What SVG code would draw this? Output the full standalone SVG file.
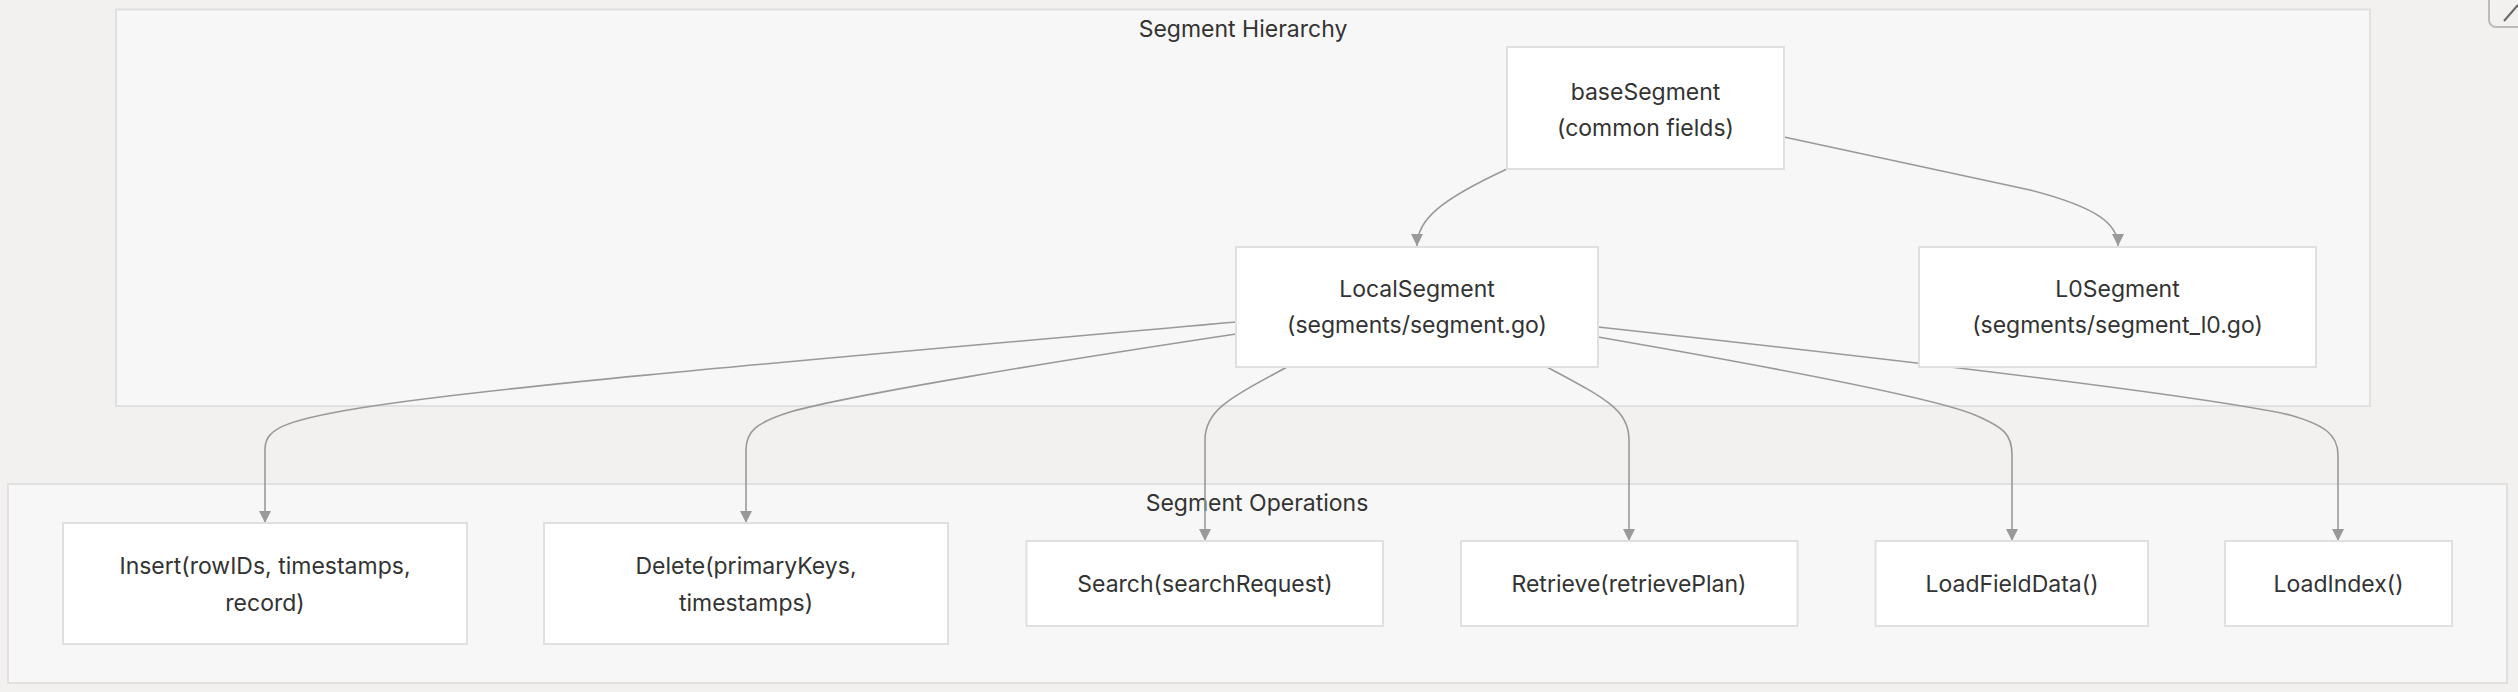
<svg xmlns="http://www.w3.org/2000/svg" width="2518" height="692" viewBox="0 0 2518 692">
<defs>
<marker id="arr" viewBox="0 0 12 12" refX="12" refY="6" markerWidth="12" markerHeight="12" markerUnits="userSpaceOnUse" orient="auto">
<path d="M0,0 L12,6 L0,12 z" fill="#999"/>
</marker>
</defs>
<style>
.cl{fill:#f7f7f7;stroke:#e0e0e0;stroke-width:2}
.nd{fill:#ffffff;stroke:#e0e0e0;stroke-width:2}
.t{font-family:Inter,"Liberation Sans",sans-serif;font-size:23px;fill:#333;text-anchor:middle;dominant-baseline:central}
.e{fill:none;stroke:#999;stroke-width:1.6;marker-end:url(#arr)}
</style>
<rect x="0" y="0" width="2518" height="692" fill="#f2f1f0"/>
<g id="cluster-hierarchy">
<rect class="cl" x="116" y="9.5" width="2254" height="396.5"/>
<text class="t" x="1243" y="29">Segment Hierarchy</text>
</g>
<g id="cluster-operations">
<rect class="cl" x="8" y="484" width="2499" height="199"/>
<text class="t" x="1257" y="503">Segment Operations</text>
</g>
<g id="connectors">
<path class="e" d="M1507,169 C1440,200 1417,220 1417,246"/>
<path class="e" d="M1784,137 L2030,190 C2100,208 2118,225 2118,246"/>
<path class="e" d="M1236,322 C900,352 500,385 360,408 C280,421 265,430 265,450 L265,523"/>
<path class="e" d="M1236,334 C1050,362 850,395 790,412 C755,423 746,432 746,450 L746,523"/>
<path class="e" d="M1287,367 C1230,398 1205,410 1205,440 L1205,541"/>
<path class="e" d="M1547,367 C1605,398 1629,410 1629,440 L1629,541"/>
<path class="e" d="M1598,337 C1800,372 1940,400 1975,415 C2005,428 2012,435 2012,455 L2012,541"/>
<path class="e" d="M1598,327 C1900,360 2200,395 2290,415 C2325,425 2338,435 2338,455 L2338,541"/>
</g>
<g id="baseSegment">
<rect class="nd" x="1507" y="47" width="277" height="122"/>
<text class="t" x="1645.5" y="92">baseSegment</text>
<text class="t" x="1645.5" y="128">(common fields)</text>
</g>
<g id="LocalSegment">
<rect class="nd" x="1236" y="247" width="362" height="120"/>
<text class="t" x="1417" y="289">LocalSegment</text>
<text class="t" x="1417" y="325">(segments/segment.go)</text>
</g>
<g id="L0Segment">
<rect class="nd" x="1919" y="247" width="397" height="120"/>
<text class="t" x="2117.5" y="289">L0Segment</text>
<text class="t" x="2117.5" y="325">(segments/segment_l0.go)</text>
</g>
<g id="Insert">
<rect class="nd" x="63" y="523" width="404" height="121"/>
<text class="t" x="265" y="566">Insert(rowIDs, timestamps,</text>
<text class="t" x="265" y="603">record)</text>
</g>
<g id="Delete">
<rect class="nd" x="544" y="523" width="404" height="121"/>
<text class="t" x="746" y="566">Delete(primaryKeys,</text>
<text class="t" x="746" y="603">timestamps)</text>
</g>
<g id="Search">
<rect class="nd" x="1026.5" y="541" width="356.5" height="85"/>
<text class="t" x="1205" y="584">Search(searchRequest)</text>
</g>
<g id="Retrieve">
<rect class="nd" x="1461" y="541" width="336.5" height="85"/>
<text class="t" x="1629" y="584">Retrieve(retrievePlan)</text>
</g>
<g id="LoadFieldData">
<rect class="nd" x="1875.5" y="541" width="272.5" height="85"/>
<text class="t" x="2012" y="584">LoadFieldData()</text>
</g>
<g id="LoadIndex">
<rect class="nd" x="2225" y="541" width="227" height="85"/>
<text class="t" x="2338.5" y="584">LoadIndex()</text>
</g>
<g id="corner-icon">
<rect x="2489" y="-12" width="40" height="39" rx="7" fill="none" stroke="#bbb" stroke-width="2"/>
<path d="M2504,21 L2518,5" stroke="#666" stroke-width="2" fill="none"/>
</g>
</svg>
